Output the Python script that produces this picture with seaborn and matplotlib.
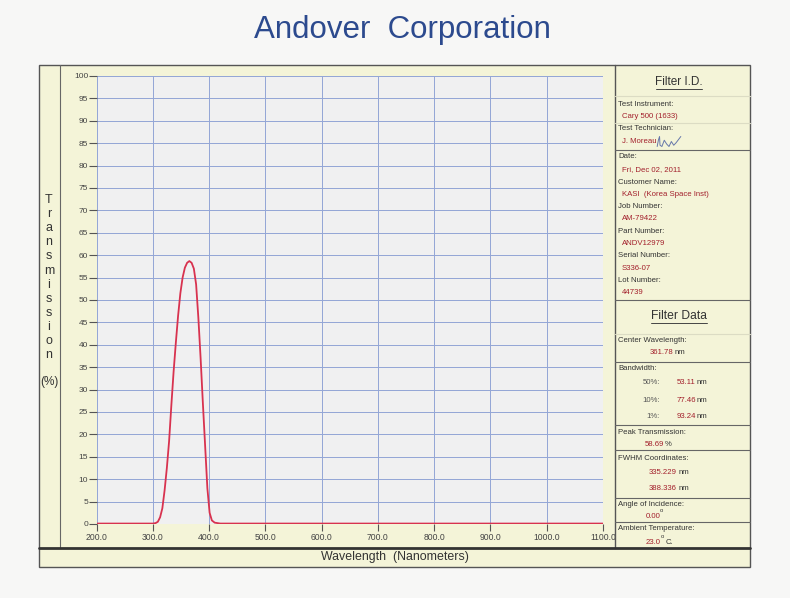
import matplotlib
matplotlib.use("Agg")
import matplotlib.pyplot as plt
import seaborn as sns
import pandas as pd
from matplotlib.patches import Rectangle
from matplotlib.lines import Line2D

# ----------------------------------------
# Dados da curva
# ----------------------------------------
wavelength = [200, 300, 305, 309, 313, 317, 321, 325, 329, 333, 337, 341, 345,
              349, 353, 357, 361, 365, 369, 373, 377, 381, 385, 389, 393, 397,
              401, 405, 410, 420, 1100]
transmission = [0.1, 0.1, 0.2, 0.5, 1.5, 3.5, 7.5, 12.5, 18.5, 26.5, 34.0, 40.5,
                46.5, 51.5, 55.0, 57.2, 58.3, 58.69, 58.3, 57.0, 53.5, 46.0,
                37.0, 27.0, 17.5, 8.0, 2.5, 0.8, 0.3, 0.1, 0.1]

x_ticks = [200, 300, 400, 500, 600, 700, 800, 900, 1000, 1100]
y_ticks = list(range(0, 101, 5))

id_labels = ["Test Instrument:", "Test Technician:", "Date:", "Customer Name:",
             "Job Number:", "Part Number:", "Serial Number:", "Lot Number:"]
id_values = ["Cary 500 (1633)", "J. Moreau", "Fri, Dec 02, 2011",
             "KASI  (Korea Space Inst)", "AM-79422", "ANDV12979", "S336-07", "44739"]

df = pd.DataFrame({"wl": wavelength, "t": transmission})

W, H = 790, 598
sns.set_style("white")
plt.rcParams["font.family"] = ["Liberation Sans", "DejaVu Sans"]

fig = plt.figure(figsize=(W / 100, H / 100), dpi=100)
fig.patch.set_facecolor("#f7f7f6")


def fx(x):
    return x / W


def fy(y):
    return 1 - y / H


def box(x0, y0, x1, y1, fc="none", ec="#555555", lw=1.0):
    fig.patches.append(Rectangle((fx(x0), fy(y1)), fx(x1) - fx(x0), fy(y0) - fy(y1),
                                 transform=fig.transFigure, fc=fc, ec=ec, lw=lw, zorder=-5))


def hline(x0, x1, y, color="#555555", lw=0.8):
    fig.lines.append(Line2D([fx(x0), fx(x1)], [fy(y), fy(y)], transform=fig.transFigure,
                            color=color, lw=lw, zorder=3))


def vline(x, y0, y1, color="#555555", lw=0.8):
    fig.lines.append(Line2D([fx(x), fx(x)], [fy(y0), fy(y1)], transform=fig.transFigure,
                            color=color, lw=lw, zorder=3))


def txt(x, y, s, size=5.6, color="#333333", ha="left", **kw):
    fig.text(fx(x), fy(y), s, fontsize=size, color=color, ha=ha, va="center", **kw)


RED = "#a3202c"

# Titulo
txt(402, 30, "Andover  Corporation", size=22.5, color="#2c4a8e", ha="center")

# Caixas de fundo
box(39, 65, 750, 567, fc="#f4f4d8", ec="#555555", lw=1.0)
vline(60, 65, 548, color="#666666", lw=0.8)
vline(615, 65, 548, color="#555555", lw=1.0)
hline(39, 750, 548, color="#333333", lw=2.0)

# ----------------------------------------
# Gráfico principal
# ----------------------------------------
ax = fig.add_axes([fx(96.5), fy(524), fx(603) - fx(96.5), fy(76) - fy(524)])
ax.set_facecolor("#f0f0f1")
sns.lineplot(data=df, x="wl", y="t", ax=ax, color="#d8324f", lw=1.3)
ax.set_xlim(200, 1100)
ax.set_ylim(0, 100)
ax.set_xticks(x_ticks)
ax.set_xticklabels([f"{v:.1f}" for v in x_ticks])
ax.set_yticks(y_ticks)
ax.set_yticklabels([str(v) for v in y_ticks])
ax.grid(True, color="#93a5d6", lw=0.7)
ax.set_axisbelow(True)
for s in ax.spines.values():
    s.set_visible(False)
ax.tick_params(axis="y", direction="out", length=5.5, width=0.8, color="#555555",
               labelcolor="#444444", labelsize=6, pad=0.5, left=True)
ax.tick_params(axis="x", direction="out", length=5, width=0.8, color="#555555",
               labelcolor="#444444", labelsize=6.2, pad=1.5, bottom=True)
ax.set_xlabel("")
ax.set_ylabel("")

# Eixo Y (letras empilhadas)
for i, ch in enumerate("Transmission"):
    txt(49, 200 + i * 14.1, ch, size=9, color="#333333", ha="center")
txt(49, 382, "(%)", size=8.5, color="#333333", ha="center")

txt(395, 557, "Wavelength  (Nanometers)", size=8.9, color="#333333", ha="center")

# ----------------------------------------
# Painel da direita
# ----------------------------------------
for y, c in [(96, "#dcdcc4"), (123, "#dcdcc4"), (150, "#666666"), (300, "#666666"),
             (334, "#dcdcc4"), (362, "#666666"), (425, "#666666"), (450, "#666666"),
             (498, "#666666"), (522, "#666666")]:
    hline(615, 750, y, color=c, lw=0.8)

txt(679, 82, "Filter I.D.", size=8.5, color="#333333", ha="center")
hline(656, 702, 89, color="#444444", lw=0.7)

id_y = [104, 129, 157, 182, 206, 231, 256, 280]
for lab, val, y in zip(id_labels, id_values, id_y):
    txt(618, y, lab)
    txt(622, y + 12.8, val, color=RED)

# assinatura
ax_sig = fig.add_axes([fx(656), fy(147), fx(26), fy(136) - fy(147)])
ax_sig.plot([0.0, 0.05, 0.1, 0.12, 0.2, 0.3, 0.4, 0.5, 0.6, 0.7, 0.8, 1.0],
            [0.1, 0.6, 0.9, 0.2, 0.1, 0.6, 0.3, 0.1, 0.5, 0.2, 0.4, 0.9],
            color="#6677aa", lw=0.7)
ax_sig.axis("off")

txt(679, 316, "Filter Data", size=8.7, color="#333333", ha="center")
hline(651, 707, 323, color="#444444", lw=0.7)

txt(618, 341, "Center Wavelength:")
txt(650, 353, "361.78", color=RED)
txt(675, 353, "nm")
txt(618, 369, "Bandwidth:")
for lab, val, y in [("50%:", "53.11", 383), ("10%:", "77.46", 400), ("1%:", "93.24", 416)]:
    txt(660, y, lab, ha="right", color="#555555")
    txt(677, y, val, color=RED)
    txt(697, y, "nm")
txt(618, 432, "Peak Transmission:")
txt(645, 445, "58.69", color=RED)
txt(665, 445, "%")
txt(618, 458, "FWHM Coordinates:")
txt(649, 472, "335.229", color=RED)
txt(679, 472, "nm")
txt(649, 488, "388.336", color=RED)
txt(679, 488, "nm")
txt(618, 504, "Angle of Incidence:")
txt(646, 516, "0.00", color=RED)
txt(660, 511, "o", size=4.2)
txt(618, 529, "Ambient Temperature:")
txt(646, 542, "23.0", color=RED)
txt(661, 537, "o", size=4.2)
txt(666, 542, "C.")

fig.savefig("out.png", dpi=100, facecolor=fig.get_facecolor())
